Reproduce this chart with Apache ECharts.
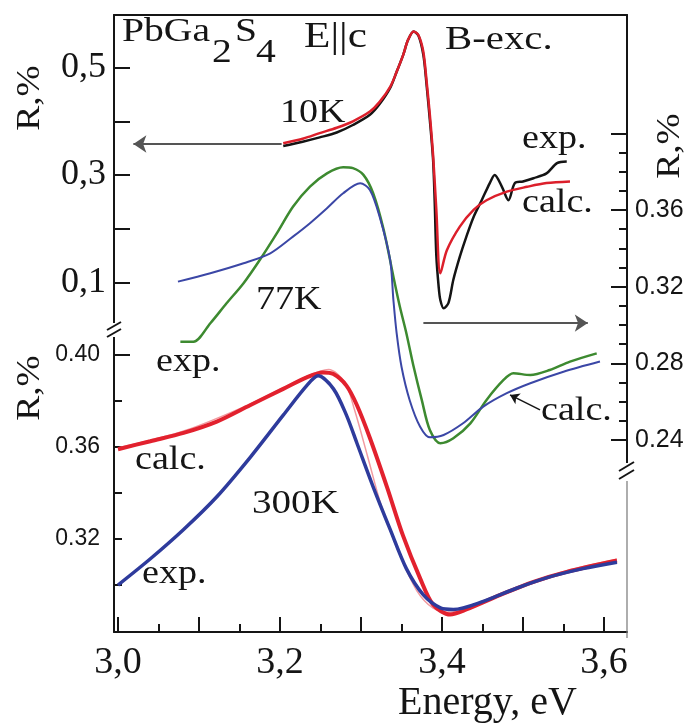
<!DOCTYPE html>
<html>
<head>
<meta charset="utf-8">
<script src="https://cdn.jsdelivr.net/npm/echarts@6/dist/echarts.min.js"></script>
<style>
  html, body { margin: 0; padding: 0; background: #fff; }
  #chart { width: 693px; height: 724px; }
</style>
</head>
<body>
<div id="chart"></div>
<script>
// ---- data: [energy eV, R %] ----
// 10K, left upper axis
const exp10K = [
  [3.204,0.354],[3.228,0.362],[3.249,0.370],[3.270,0.379],[3.290,0.393],[3.311,0.412],
  [3.323,0.432],[3.336,0.462],[3.344,0.492],[3.352,0.523],[3.358,0.551],[3.365,0.567],
  [3.371,0.559],[3.377,0.523],[3.381,0.467],[3.385,0.402],[3.389,0.328],[3.391,0.250],
  [3.393,0.150],[3.396,0.090],[3.398,0.067],[3.402,0.052],[3.408,0.062],[3.414,0.105],
  [3.422,0.148],[3.430,0.185],[3.439,0.222],[3.449,0.253],[3.459,0.285],[3.465,0.300],
  [3.474,0.278],[3.482,0.253],[3.490,0.285],[3.500,0.288],[3.513,0.294],[3.529,0.303],
  [3.542,0.322],[3.554,0.325]
];
const calc10K = [
  [3.204,0.359],[3.229,0.368],[3.249,0.378],[3.270,0.388],[3.290,0.400],[3.311,0.418],
  [3.323,0.436],[3.336,0.464],[3.344,0.492],[3.352,0.523],[3.358,0.551],[3.365,0.567],
  [3.371,0.560],[3.377,0.529],[3.381,0.474],[3.385,0.412],[3.389,0.337],[3.393,0.235],
  [3.398,0.117],[3.406,0.160],[3.422,0.204],[3.439,0.235],[3.455,0.253],[3.480,0.269],
  [3.505,0.278],[3.529,0.285],[3.558,0.288]
];
// 77K, right axis
const exp77K = [
  [3.077,0.2913],[3.093,0.2913],[3.114,0.3009],[3.134,0.3113],[3.155,0.3218],[3.175,0.3339],
  [3.196,0.3478],[3.216,0.3617],[3.237,0.3722],[3.258,0.3791],[3.278,0.3823],[3.290,0.3818],
  [3.303,0.3783],[3.315,0.3687],[3.328,0.3496],[3.340,0.3252],[3.348,0.3095],[3.356,0.2957],
  [3.365,0.2782],[3.375,0.2609],[3.385,0.2452],[3.398,0.2383],[3.414,0.2409],[3.435,0.2487],
  [3.455,0.2609],[3.476,0.2713],[3.488,0.2748],[3.509,0.2739],[3.533,0.2765],[3.558,0.2809],
  [3.591,0.2852]
];
const calc77K = [
  [3.074,0.3226],[3.114,0.3270],[3.155,0.3322],[3.188,0.3374],[3.216,0.3461],[3.237,0.3531],
  [3.258,0.3609],[3.278,0.3687],[3.299,0.3739],[3.311,0.3704],[3.323,0.3565],[3.336,0.3339],
  [3.340,0.3130],[3.344,0.2957],[3.350,0.2782],[3.360,0.2609],[3.373,0.2469],[3.385,0.2414],
  [3.402,0.2426],[3.426,0.2487],[3.451,0.2574],[3.480,0.2644],[3.509,0.2696],[3.550,0.2756],
  [3.595,0.2809]
];
// 300K, left lower axis
const exp300K = [
  [3.000,0.3000],[3.040,0.3114],[3.081,0.3241],[3.122,0.3383],[3.163,0.3553],[3.204,0.3737],
  [3.233,0.3865],[3.247,0.3908],[3.266,0.3851],[3.282,0.3737],[3.295,0.3615],[3.315,0.3426],
  [3.336,0.3241],[3.356,0.3071],[3.377,0.2957],[3.398,0.2901],[3.414,0.2894],[3.451,0.2929],
  [3.492,0.2986],[3.533,0.3035],[3.574,0.3071],[3.616,0.3099]
];
const calc300K = [
  [3.000,0.3589],[3.040,0.3624],[3.081,0.3660],[3.122,0.3709],[3.163,0.3780],[3.204,0.3851],
  [3.233,0.3901],[3.253,0.3922],[3.266,0.3915],[3.282,0.3865],[3.295,0.3780],[3.311,0.3638],
  [3.332,0.3426],[3.352,0.3213],[3.373,0.3029],[3.389,0.2915],[3.410,0.2872],[3.430,0.2894],
  [3.472,0.2957],[3.513,0.3014],[3.554,0.3057],[3.616,0.3106]
];
const calc300Kedge = [
  [3.000,0.3595],[3.081,0.3668],[3.163,0.3785],[3.233,0.3905],[3.260,0.3935],[3.280,0.3880],
  [3.292,0.3760],[3.308,0.3560],[3.325,0.3345],[3.348,0.3130],[3.369,0.2975],[3.389,0.2900],
  [3.410,0.2882],[3.450,0.2925],[3.500,0.2995],[3.550,0.3058],[3.616,0.3112]
];
// arrows: which axis each temperature uses
const arrow10K = [[3.202,0.3577],[3.019,0.3577]];
const arrow77K = [[3.377,0.3010],[3.580,0.3010]];
const pointer77K = [[3.521,0.2557],[3.484,0.2635]];

// tick values
const xTicks = [3.0,3.1,3.2,3.3,3.4,3.5,3.6];
const xMinor = [3.05,3.15,3.25,3.35,3.45,3.55];
const xLabels = [3.0,3.2,3.4,3.6];
const topTicks = [0.1,0.2,0.3,0.4,0.5];
const topLabels = [0.1,0.3,0.5];
const rightTicks = [0.24,0.28,0.32,0.36,0.40];
const rightMinor = [0.25,0.26,0.27,0.29,0.30,0.31,0.33,0.34,0.35,0.37,0.38,0.39];
const rightLabels = [0.24,0.28,0.32,0.36];
const lowTicksLong = [0.40];
const lowTicks = [0.30,0.32,0.34,0.36,0.38];
const lowLabels = [0.32,0.36,0.40];

const SERIF = '"Liberation Serif", "Times New Roman", serif';
const SANS = '"Liberation Sans", Arial, sans-serif';
const INK = '#151515';
const xMin = 2.99506, xMax = 3.62839;

const chart = echarts.init(document.getElementById('chart'), null, {renderer: 'canvas'});

function serifText(str, x, y, size, sx, rot, align) {
  const a = align || 'left';
  return {
    type: 'text', x: x, y: y, scaleX: sx || 1.15, rotation: rot || 0, z: 20,
    style: {
      text: str, font: size + 'px ' + SERIF, fill: INK,
      align: a, verticalAlign: 'middle',
      textAlign: a, textVerticalAlign: 'middle'
    }
  };
}
function seg(x1, y1, x2, y2, color, w) {
  return {type: 'line', z: 31, shape: {x1, y1, x2, y2}, style: {stroke: color || INK, lineWidth: w || 2}};
}
function arrowLine(pair, color, width, size) {
  return {silent: true, symbol: ['none', 'arrow'], symbolSize: size, label: {show: false},
          lineStyle: {color: color, width: width, type: 'solid'},
          data: [[{coord: pair[0]}, {coord: pair[1]}]]};
}
function curve(name, xi, yi, data, color, width) {
  return {name: name, type: 'line', xAxisIndex: xi, yAxisIndex: yi, data: data,
          showSymbol: false, smooth: 0.3, lineStyle: {color: color, width: width}};
}

const hiddenX = (gi) => ({gridIndex: gi, type: 'value', min: xMin, max: xMax, show: false});

const s10e = curve('10K exp.', 0, 0, exp10K, '#141414', 2.5);
s10e.markLine = arrowLine(arrow10K, '#555', 2, 13);
const s77e = curve('77K exp.', 1, 1, exp77K, '#3d8a30', 2.5);
s77e.markLine = arrowLine(arrow77K, '#555', 2, 13);
const s77c = curve('77K calc.', 1, 1, calc77K, '#3b47a6', 2);
s77c.markLine = arrowLine(pointer77K, INK, 1.5, 9);

const option = {
  backgroundColor: '#fff',
  animation: false,
  grid: [
    {left: 114, right: 66, top: 15, height: 315},
    {left: 114, right: 66, top: 15, height: 457},
    {left: 114, right: 66, top: 330, height: 308}
  ],
  xAxis: [
    {gridIndex: 0, type: 'value', min: xMin, max: xMax, position: 'top',
     axisLine: {show: true, lineStyle: {color: INK, width: 2}},
     axisTick: {show: false}, axisLabel: {show: false}, splitLine: {show: false}},
    hiddenX(1),
    {gridIndex: 2, type: 'value', min: xMin, max: xMax, position: 'bottom',
     axisLine: {show: true, lineStyle: {color: INK, width: 2}},
     axisTick: {show: true, inside: true, length: 15, customValues: xTicks, lineStyle: {color: INK, width: 2}},
     axisLabel: {customValues: xLabels, formatter: v => v.toFixed(1).replace('.', ','),
                 fontFamily: SERIF, fontSize: 38, color: INK, margin: 12},
     splitLine: {show: false},
     name: 'Energy, eV', nameLocation: 'middle', nameGap: 50,
     nameTextStyle: {fontFamily: SERIF, fontSize: 40, color: INK, padding: [0, 0, 0, 234]}},
    {gridIndex: 2, type: 'value', min: xMin, max: xMax, position: 'bottom',
     axisLine: {show: false},
     axisTick: {show: true, inside: true, length: 8, customValues: xMinor, lineStyle: {color: INK, width: 2}},
     axisLabel: {show: false}, splitLine: {show: false}}
  ],
  yAxis: [
    {gridIndex: 0, type: 'value', min: 0.0116, max: 0.5977, position: 'left',
     axisLine: {show: true, lineStyle: {color: INK, width: 2}},
     axisTick: {show: true, inside: true, length: 16, customValues: topTicks, lineStyle: {color: INK, width: 2}},
     axisLabel: {customValues: topLabels, formatter: v => v.toFixed(1).replace('.', ','),
                 fontFamily: SERIF, fontSize: 36, color: INK, margin: 8},
     splitLine: {show: false}},
    {gridIndex: 1, type: 'value', min: 0.2233, max: 0.4617, position: 'right',
     axisLine: {show: true, lineStyle: {color: INK, width: 2}},
     axisTick: {show: true, inside: true, length: 16, customValues: rightTicks, lineStyle: {color: INK, width: 2}},
     axisLabel: {customValues: rightLabels, formatter: v => v.toFixed(2),
                 fontFamily: SANS, fontSize: 25, color: INK, margin: 8},
     splitLine: {show: false}},
    {gridIndex: 1, type: 'value', min: 0.2233, max: 0.4617, position: 'right',
     axisLine: {show: false},
     axisTick: {show: true, inside: true, length: 8, customValues: rightMinor, lineStyle: {color: INK, width: 2}},
     axisLabel: {show: false}, splitLine: {show: false}},
    {gridIndex: 2, type: 'value', min: 0.27957, max: 0.41064, position: 'left',
     axisLine: {show: true, lineStyle: {color: INK, width: 2}},
     axisTick: {show: true, inside: true, length: 16, customValues: lowTicksLong, lineStyle: {color: INK, width: 2}},
     axisLabel: {customValues: lowLabels, formatter: v => v.toFixed(2),
                 fontFamily: SANS, fontSize: 23, color: INK, margin: 14},
     splitLine: {show: false}},
    {gridIndex: 2, type: 'value', min: 0.27957, max: 0.41064, position: 'left',
     axisLine: {show: false},
     axisTick: {show: true, inside: true, length: 8, customValues: lowTicks, lineStyle: {color: INK, width: 2}},
     axisLabel: {show: false}, splitLine: {show: false}}
  ],
  series: [
    s10e,
    curve('10K calc.', 0, 0, calc10K, '#dc1f2b', 2.5),
    s77e,
    s77c,
    curve('300K calc. edge', 2, 3, calc300Kedge, '#f29aa0', 1.5),
    curve('300K calc.', 2, 3, calc300K, '#e2212e', 4),
    curve('300K exp.', 2, 3, exp300K, '#2e3b9c', 3.5)
  ],
  graphic: [
    // axis breaks and lower right frame
    {type: 'rect', z: 30, shape: {x: 106, y: 323, width: 16, height: 14}, style: {fill: '#fff'}},
    seg(107, 330, 121, 322), seg(107, 337, 121, 329),
    {type: 'rect', z: 30, shape: {x: 619, y: 463, width: 16, height: 17}, style: {fill: '#fff'}},
    seg(619, 471, 634, 462), seg(619, 479, 634, 470),
    seg(627, 481, 627, 638, '#777', 1.2),
    // y titles
    serifText('R,%', 30, 98, 34, 1.1, Math.PI / 2, 'center'),
    serifText('R,%', 30, 388, 34, 1.1, Math.PI / 2, 'center'),
    serifText('R,%', 670, 146, 34, 1.1, Math.PI / 2, 'center'),
    // annotations
    serifText('PbGa', 122, 32, 33, 1.2),
    serifText('2', 212, 53, 33, 1.2),
    serifText('S', 235, 32, 33, 1.2),
    serifText('4', 256, 53, 33, 1.2),
    serifText('E||c', 304, 38, 36, 1.2),
    serifText('B-exc.', 445, 40, 34, 1.2),
    serifText('10K', 280, 113, 34, 1.12),
    serifText('exp.', 522, 139, 34, 1.12),
    serifText('calc.', 522, 203, 34, 1.12),
    serifText('77K', 256, 300, 34, 1.12),
    serifText('exp.', 156, 362, 34, 1.12),
    serifText('calc.', 541, 411, 34, 1.12),
    serifText('calc.', 135, 460, 34, 1.12),
    serifText('300K', 252, 504, 34, 1.15),
    serifText('exp.', 142, 574, 34, 1.12)
  ]
};
chart.setOption(option);
</script>
</body>
</html>
